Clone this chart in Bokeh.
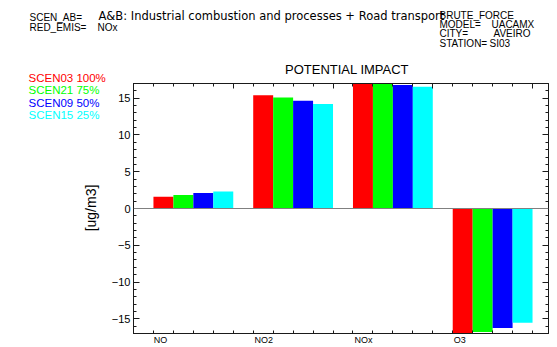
import math
from bokeh.plotting import figure
from bokeh.models import Range1d, LinearAxis, FixedTicker, Span
from bokeh.layouts import column, row
from bokeh.core.properties import value
from bokeh.embed import file_html
from bokeh.resources import INLINE

# ---- data ----
species = ["NO", "NO2", "NOx", "O3"]
scenarios = ["SCEN03 100%", "SCEN21 75%", "SCEN09 50%", "SCEN15 25%"]
colors = ["#ff0000", "#00ff00", "#0000ff", "#00ffff"]
scen03 = [1.6, 15.4, 17.5, -17.5]
scen21 = [1.85, 15.1, 17.2, -16.8]
scen09 = [2.1, 14.65, 16.8, -16.25]
scen15 = [2.3, 14.2, 16.55, -15.55]
series = [scen03, scen21, scen09, scen15]
y_major = [-15, -10, -5, 0, 5, 10, 15]
y_labels = {v: ("\u2212" + str(-v) if v < 0 else str(v)) for v in y_major}
header_keys = ["SCEN_AB=", "RED_EMIS="]
header_vals = ["A&B: Industrial combustion and processes + Road transport", "NOx"]
right_title = "BRUTE_FORCE"
right_keys = ["MODEL=", "CITY=", "STATION="]
right_vals = ["UACAMX", "AVEIRO", "SI03"]
title = "POTENTIAL IMPACT"
ylabel = "[ug/m3]"

FONT = "Liberation Sans"
FONT2 = "DejaVu Sans"
XMAX = 4.16
YMIN, YMAX = -17, 17
BAR_W = 0.2
W, H = 557, 347
FL, FR, FT, FB = 130, 548, 83, 336   # frame edges in page pixels
LW = 108                               # width of left text column
TH = 62                                # header height
MT = 80                                # top of main figure


def blank(x0, y0, w, h):
    f = figure(width=w, height=h, title=None,
               x_range=Range1d(x0, x0 + w), y_range=Range1d(y0 + h, y0),
               output_backend="svg", toolbar_location=None,
               x_axis_location=None, y_axis_location=None,
               min_border=0, min_border_left=0, min_border_right=0,
               min_border_top=0, min_border_bottom=0)
    f.outline_line_color = None
    f.background_fill_color = "white"
    f.border_fill_color = "white"
    f.xgrid.visible = False
    f.ygrid.visible = False
    return f


def txt(f, xs, ys, texts, size, color="black", font=FONT, **kw):
    f.text(x=xs, y=ys, text=texts, text_font=value(font), text_font_size=value(size),
           text_color=color, **kw)


# ---- header ----
top = blank(0, 0, W, TH)
txt(top, [29, 29], [22, 32], header_keys, "10px")
txt(top, [98], [22], header_vals[:1], "11.5px", font=FONT2)
txt(top, [97], [32], header_vals[1:], "10px")
txt(top, [439], [20.7], [right_title], "10px")
txt(top, [439, 439, 439], [29.5, 38.6, 48.3], right_keys, "10px")
txt(top, [491, 493, 489], [29.5, 38.6, 48.3], right_vals, "10px")

# ---- left column: legend + y axis title ----
left = blank(0, TH, LW, H - TH)
txt(left, [28] * 4, [83.3 + 12.35 * k for k in range(4)], scenarios, "11.5px", color=colors)
txt(left, [90], [207.5], [ylabel], "14px", angle=math.pi / 2,
    text_align="center", text_baseline="middle")

# ---- title strip ----
tstrip = blank(LW, TH, W - LW, MT - TH)
txt(tstrip, [(FL + FR) / 2], [76.7], [title], "13px", text_align="center")

# ---- main chart ----
p = figure(width=W - LW, height=H - MT, title=None,
           x_range=Range1d(0, XMAX), y_range=Range1d(YMIN, YMAX),
           output_backend="svg", toolbar_location=None,
           x_axis_location=None, y_axis_location=None,
           min_border_left=FL - LW, min_border_right=W - FR,
           min_border_top=FT - MT, min_border_bottom=H - FB)
p.background_fill_color = "white"
p.border_fill_color = "white"
p.outline_line_color = "#1a1a1a"
p.xgrid.visible = False
p.ygrid.visible = False

minor_x = [round(i * 0.2, 2) for i in range(0, 21)]
x_ticker = FixedTicker(ticks=[0, 1, 2, 3, 4], minor_ticks=minor_x)
y_ticker = FixedTicker(ticks=y_major, minor_ticks=list(range(-17, 18)))


def style_axis(ax, labels, major_in, minor_in):
    ax.axis_line_color = "#1a1a1a"
    ax.major_tick_line_color = "#1a1a1a"
    ax.minor_tick_line_color = "#1a1a1a"
    ax.major_tick_out = 0
    ax.minor_tick_out = 0
    ax.major_tick_in = major_in
    ax.minor_tick_in = minor_in
    if labels:
        ax.major_label_text_font = FONT
        ax.major_label_text_font_size = "11px"
        ax.major_label_text_color = "black"
        ax.major_label_standoff = 3
    else:
        ax.major_label_text_alpha = 0
        ax.major_label_text_font_size = "1px"
        ax.major_label_standoff = 0


ax_top = LinearAxis(ticker=x_ticker)
style_axis(ax_top, False, 5, 3)
p.add_layout(ax_top, "above")

# bottom axis: category names just right of each group start, 0.2-step ticks inward
cat_pos = [i + BAR_W + 0.035 * len(s) for i, s in enumerate(species)]
cat_axis = LinearAxis(ticker=FixedTicker(ticks=cat_pos, minor_ticks=minor_x),
                      major_label_overrides={c: s for c, s in zip(cat_pos, species)})
cat_axis.axis_line_color = "#1a1a1a"
cat_axis.major_tick_line_color = None
cat_axis.minor_tick_line_color = "#1a1a1a"
cat_axis.major_tick_in = 0
cat_axis.major_tick_out = 0
cat_axis.minor_tick_in = 3
cat_axis.minor_tick_out = 0
cat_axis.major_label_standoff = 1
cat_axis.major_label_text_font = FONT
cat_axis.major_label_text_font_size = "9px"
cat_axis.major_label_text_color = "black"
p.add_layout(cat_axis, "below")

yl = LinearAxis(ticker=y_ticker, major_label_overrides=y_labels)
style_axis(yl, True, 6, 3)
p.add_layout(yl, "left")
yr = LinearAxis(ticker=y_ticker)
style_axis(yr, False, 6, 3)
p.add_layout(yr, "right")

p.add_layout(Span(location=0, dimension="width", line_color="#808080", line_width=1))

for j, (vals, col) in enumerate(zip(series, colors)):
    xs = [i + BAR_W + BAR_W * j + BAR_W / 2 for i in range(len(species))]
    p.vbar(x=xs, top=vals, bottom=0, width=BAR_W, fill_color=col, line_color=None)

layout = column(top, row(left, column(tstrip, p)))
open("out.html", "w").write(file_html(layout, INLINE))
